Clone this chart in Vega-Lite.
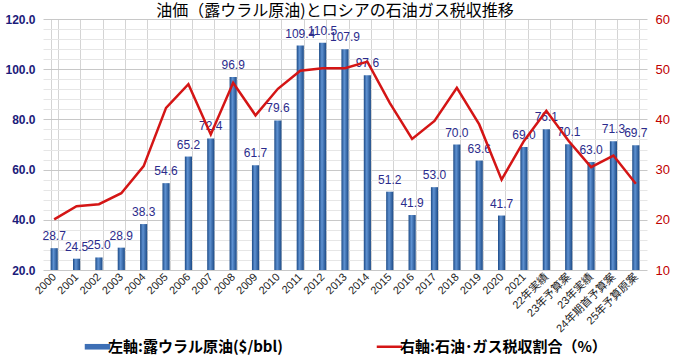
{
  "$schema": "https://vega.github.io/schema/vega-lite/v6.json",
  "width": 604,
  "height": 251,
  "autosize": {"type": "none"},
  "padding": {"left": 43, "top": 19, "right": 26, "bottom": 90},
  "background": "white",
  "title": {
    "text": "油価（露ウラル原油)とロシアの石油ガス税収推移",
    "font": "Noto Sans CJK JP",
    "fontSize": 16,
    "fontWeight": "normal",
    "color": "#000000",
    "anchor": "middle",
    "frame": "group",
    "baseline": "alphabetic",
    "offset": -19,
    "dx": -10
  },
  "config": {
    "view": {"stroke": null},
    "axis": {"labelFont": "Liberation Sans, Noto Sans CJK JP"}
  },
  "data": {
    "values": [
      {"year": "2000", "oil": 28.7, "share": 20.1},
      {"year": "2001", "oil": 24.5, "share": 22.7},
      {"year": "2002", "oil": 25.0, "share": 23.1},
      {"year": "2003", "oil": 28.9, "share": 25.3},
      {"year": "2004", "oil": 38.3, "share": 30.7},
      {"year": "2005", "oil": 54.6, "share": 42.3},
      {"year": "2006", "oil": 65.2, "share": 47.0},
      {"year": "2007", "oil": 72.4, "share": 37.0},
      {"year": "2008", "oil": 96.9, "share": 47.3},
      {"year": "2009", "oil": 61.7, "share": 40.8},
      {"year": "2010", "oil": 79.6, "share": 46.1},
      {"year": "2011", "oil": 109.4, "share": 49.7},
      {"year": "2012", "oil": 110.5, "share": 50.2},
      {"year": "2013", "oil": 107.9, "share": 50.2},
      {"year": "2014", "oil": 97.6, "share": 51.5},
      {"year": "2015", "oil": 51.2, "share": 43.3},
      {"year": "2016", "oil": 41.9, "share": 36.1},
      {"year": "2017", "oil": 53.0, "share": 39.7},
      {"year": "2018", "oil": 70.0, "share": 46.3},
      {"year": "2019", "oil": 63.6, "share": 39.0},
      {"year": "2020", "oil": 41.7, "share": 28.0},
      {"year": "2021", "oil": 69.0, "share": 35.7},
      {"year": "22年実績", "oil": 76.1, "share": 41.7},
      {"year": "23年予算案", "oil": 70.1, "share": 35.7},
      {"year": "23年実績", "oil": 63.0, "share": 30.5},
      {"year": "24年期首予算案", "oil": 71.3, "share": 32.8},
      {"year": "25年予算原案", "oil": 69.7, "share": 27.2}
    ]
  },
  "encoding": {
    "x": {
      "field": "year",
      "type": "nominal",
      "sort": null,
      "scale": {"paddingInner": 0.68, "paddingOuter": 0.34},
      "axis": {
        "title": null,
        "labelAngle": -45,
        "labelAlign": "right",
        "labelBaseline": "middle",
        "labelFontSize": 11,
        "labelColor": "#222222",
        "labelPadding": 5,
        "ticks": false,
        "domain": false,
        "grid": true,
        "tickBand": "extent",
        "gridColor": "#D4D4D4",
        "gridWidth": 1,
        "labelOverlap": false
      }
    }
  },
  "layer": [
    {
      "encoding": {
        "y": {
          "field": "oil",
          "type": "quantitative",
          "scale": {"domain": [20, 120], "zero": false, "nice": false},
          "axis": {
            "title": null,
            "values": [20, 24, 28, 32, 36, 40, 44, 48, 52, 56, 60, 64, 68, 72, 76, 80, 84, 88, 92, 96, 100, 104, 108, 112, 116, 120],
            "labelExpr": "datum.value % 20 === 0 ? format(datum.value, '.1f') : ''",
            "labelFontSize": 12,
            "labelFontWeight": "bold",
            "labelColor": "#1B1B7A",
            "labelPadding": 8,
            "ticks": false,
            "domain": false,
            "grid": true,
            "gridColor": {"condition": {"test": "datum.value % 20 === 0", "value": "#C8C8C8"}, "value": "#E6E6E6"},
            "labelOverlap": false
          }
        }
      },
      "layer": [
        {
          "mark": {
            "type": "bar",
            "color": {
              "gradient": "linear",
              "x1": 0, "x2": 1, "y1": 0, "y2": 0,
              "stops": [
                {"offset": 0, "color": "#1C4A86"},
                {"offset": 0.4, "color": "#5F92D2"},
                {"offset": 1, "color": "#1C4A86"}
              ]
            }
          },
          "encoding": {
            "y2": {"datum": 20}
          }
        },
        {
          "mark": {
            "type": "text",
            "baseline": "bottom",
            "dy": -5,
            "font": "Liberation Sans",
            "fontSize": 12,
            "color": "#2B2B8C"
          },
          "encoding": {
            "text": {"field": "oil", "type": "quantitative", "format": ".1f"}
          }
        }
      ]
    },
    {
      "mark": {"type": "line", "strokeWidth": 2.5, "interpolate": "linear"},
      "encoding": {
        "y": {
          "field": "share",
          "type": "quantitative",
          "scale": {"domain": [10, 60], "zero": false, "nice": false},
          "axis": {
            "orient": "right",
            "title": null,
            "values": [10, 20, 30, 40, 50, 60],
            "labelFontSize": 13,
            "labelColor": "#C00000",
            "labelPadding": 8,
            "ticks": false,
            "domain": false,
            "grid": false
          }
        },
        "color": {
          "datum": "右軸:石油･ガス税収割合（%）",
          "type": "nominal",
          "scale": {
            "domain": ["左軸:露ウラル原油($/bbl)", "右軸:石油･ガス税収割合（%）"],
            "range": ["#3D6FB5", "#D41515"]
          },
          "legend": {
            "title": null,
            "orient": "none",
            "legendX": 47,
            "legendY": 320,
            "direction": "horizontal",
            "columns": 2,
            "columnPadding": 88,
            "labelFont": "Noto Sans CJK JP",
            "labelFontSize": 15,
            "labelFontWeight": "bold",
            "labelColor": "#000000",
            "labelOffset": 3,
            "labelLimit": 400,
            "symbolSize": 650,
            "symbolStrokeWidth": 2.5,
            "encode": {
              "symbols": {
                "update": {
                  "shape": {"signal": "datum.value === '左軸:露ウラル原油($/bbl)' ? 'M-1,-0.22H1V0.22H-1Z' : 'M-1,0H1'"},
                  "fill": {"signal": "datum.value === '左軸:露ウラル原油($/bbl)' ? '#3D6FB5' : 'transparent'"},
                  "strokeWidth": {"signal": "datum.value === '左軸:露ウラル原油($/bbl)' ? 0 : 2.5"}
                }
              }
            }
          }
        }
      }
    }
  ],
  "resolve": {"scale": {"y": "independent"}}
}
